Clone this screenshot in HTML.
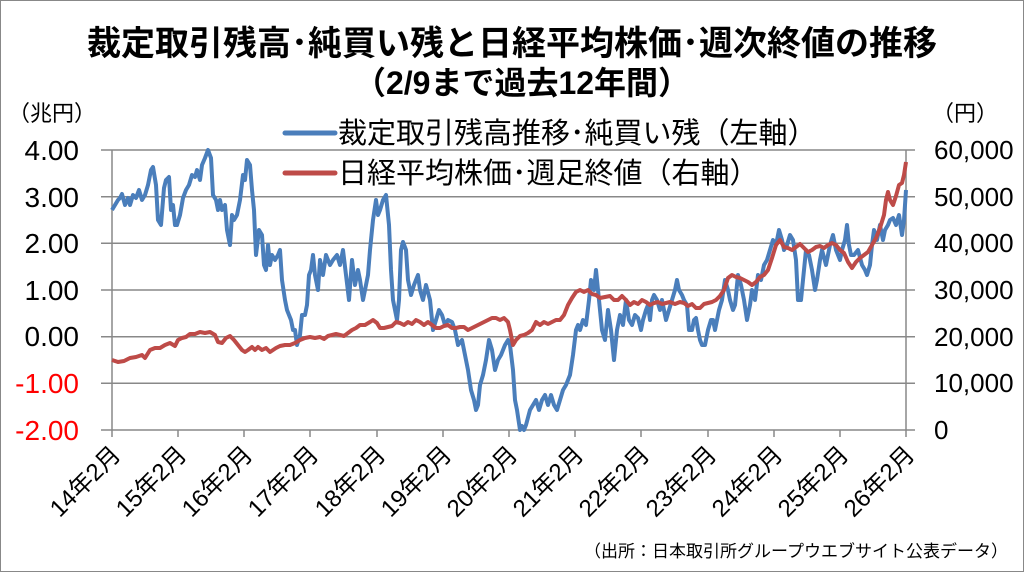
<!DOCTYPE html>
<html><head><meta charset="utf-8"><style>
body{margin:0;background:#fff}
svg{display:block}
text{font-family:"Liberation Sans","Noto Sans CJK JP",sans-serif}
</style></head><body>
<svg width="1024" height="572" viewBox="0 0 1024 572">
<rect x="0.5" y="0.5" width="1023" height="571" fill="#fff" stroke="#888" stroke-width="1"/>
<text x="512" y="55" font-size="34" font-weight="bold" text-anchor="middle" fill="#000">裁定取引残高･純買い残と日経平均株価･週次終値の推移</text>
<text x="522" y="94" font-size="32" font-weight="bold" text-anchor="middle" fill="#000">（2/9まで過去12年間）</text>
<text x="8" y="121" font-size="22" fill="#000">（兆円）</text>
<text x="932" y="121" font-size="22" fill="#000">（円）</text>
<g stroke="#888" stroke-width="1.5">
<line x1="101" y1="150" x2="915" y2="150"/><line x1="101" y1="196.7" x2="915" y2="196.7"/><line x1="101" y1="243.3" x2="915" y2="243.3"/><line x1="101" y1="290" x2="915" y2="290"/><line x1="101" y1="336.7" x2="915" y2="336.7"/><line x1="101" y1="383.3" x2="915" y2="383.3"/><line x1="101" y1="430" x2="915" y2="430"/>
<line x1="112" y1="150" x2="112" y2="437"/><line x1="906" y1="150" x2="906" y2="437"/>
<line x1="178" y1="430" x2="178" y2="437"/><line x1="244" y1="430" x2="244" y2="437"/><line x1="310" y1="430" x2="310" y2="437"/><line x1="377" y1="430" x2="377" y2="437"/><line x1="443" y1="430" x2="443" y2="437"/><line x1="509" y1="430" x2="509" y2="437"/><line x1="575" y1="430" x2="575" y2="437"/><line x1="641" y1="430" x2="641" y2="437"/><line x1="708" y1="430" x2="708" y2="437"/><line x1="774" y1="430" x2="774" y2="437"/><line x1="840" y1="430" x2="840" y2="437"/>
</g>
<g font-size="28" text-anchor="end">
<text x="79" y="160">4.00</text><text x="79" y="207">3.00</text><text x="79" y="253">2.00</text><text x="79" y="300">1.00</text><text x="79" y="346">0.00</text>
<text x="79" y="393" fill="#f00">-1.00</text><text x="79" y="440" fill="#f00">-2.00</text>
</g>
<g font-size="26">
<text x="934" y="159">60,000</text><text x="934" y="206">50,000</text><text x="934" y="252">40,000</text><text x="934" y="299">30,000</text><text x="934" y="346">20,000</text><text x="934" y="392">10,000</text><text x="934" y="439">0</text>
</g>
<g font-size="24" text-anchor="end">
<text transform="translate(122,456) rotate(-45)">14年2月</text>
<text transform="translate(188,456) rotate(-45)">15年2月</text>
<text transform="translate(254,456) rotate(-45)">16年2月</text>
<text transform="translate(320,456) rotate(-45)">17年2月</text>
<text transform="translate(387,456) rotate(-45)">18年2月</text>
<text transform="translate(453,456) rotate(-45)">19年2月</text>
<text transform="translate(519,456) rotate(-45)">20年2月</text>
<text transform="translate(585,456) rotate(-45)">21年2月</text>
<text transform="translate(651,456) rotate(-45)">22年2月</text>
<text transform="translate(718,456) rotate(-45)">23年2月</text>
<text transform="translate(784,456) rotate(-45)">24年2月</text>
<text transform="translate(850,456) rotate(-45)">25年2月</text>
<text transform="translate(916,456) rotate(-45)">26年2月</text>
</g>
<text x="1008" y="557" font-size="17" text-anchor="end">（出所：日本取引所グループウエブサイト公表データ）</text>
<line x1="285" y1="133" x2="335" y2="133" stroke="#4a7ebb" stroke-width="5" stroke-linecap="round"/>
<text x="338" y="143" font-size="29">裁定取引残高推移･純買い残（左軸）</text>
<line x1="285" y1="173" x2="335" y2="173" stroke="#be4b48" stroke-width="5" stroke-linecap="round"/>
<text x="338" y="183" font-size="29">日経平均株価･週足終値（右軸）</text>
<polyline fill="none" stroke="#4a7ebb" stroke-width="4" stroke-linejoin="round" points="112,210 115,205 118,200 120,198 122,194 125,205 128,198 130,205 133,195 136,198 139,190 142,200 145,195 148,185 151,170 153,167 156,185 158,220 161,225 164,188 166,180 169,177 171,210 173,205 175,225 177,225 180,215 183,198 186,190 189,185 192,175 195,177 197,170 200,180 202,165 205,158 208,150 211,158 213,195 216,200 218,210 220,200 222,210 225,205 227,230 230,245 232,215 234,220 237,215 240,200 243,175 245,180 247,160 250,165 252,190 254,210 256,255 259,230 262,235 264,265 266,270 268,245 270,265 272,255 275,260 278,255 280,250 282,280 285,300 287,310 289,315 291,320 293,330 295,330 297,345 300,335 302,315 305,315 307,305 309,275 311,270 313,255 315,275 318,290 320,260 323,275 326,255 330,265 333,260 337,255 340,265 343,250 346,275 349,300 352,260 355,285 358,270 360,280 363,300 365,290 368,275 370,250 373,220 376,200 378,215 380,210 383,200 386,195 389,225 391,270 393,300 395,310 397,320 399,300 401,250 403,242 406,250 408,280 411,295 414,285 418,275 420,290 423,300 426,285 430,300 433,330 436,320 439,310 442,315 445,325 448,320 452,322 455,330 458,345 462,340 465,355 468,370 471,390 474,400 476,410 478,405 480,385 483,375 486,360 489,340 492,350 495,370 498,360 501,355 505,345 508,340 510,345 513,370 515,400 517,410 520,430 522,426 524,430 526,425 530,410 533,405 536,400 539,410 542,400 545,395 548,405 551,395 554,405 557,410 560,400 563,390 566,385 570,375 573,355 576,330 578,325 580,330 583,320 586,325 589,300 591,280 594,290 596,270 599,300 602,330 605,340 608,310 611,330 614,360 617,330 620,315 623,325 626,300 629,320 632,325 635,315 638,318 641,330 643,320 646,310 648,305 650,320 652,300 654,295 657,300 660,310 662,300 666,320 669,310 672,300 675,290 677,280 679,290 682,295 684,300 687,305 689,330 692,330 694,320 696,318 698,330 700,340 702,345 705,345 708,330 711,320 713,320 715,330 717,320 719,310 722,300 725,280 728,290 730,300 733,310 735,305 738,275 741,285 744,300 747,320 750,305 752,290 755,300 758,275 761,280 764,265 767,260 770,250 773,240 776,245 779,230 782,240 784,250 787,245 790,235 793,240 796,260 798,300 801,300 803,280 806,250 809,255 812,270 815,290 817,280 820,260 822,250 826,265 830,245 833,235 836,250 840,260 842,250 845,240 847,225 849,245 851,255 854,255 858,250 862,265 865,270 867,275 870,265 872,245 874,230 877,240 880,225 883,240 885,230 888,225 890,220 893,218 896,225 899,215 902,235 904,220 906,190"/>
<polyline fill="none" stroke="#be4b48" stroke-width="4" stroke-linejoin="round" points="112,360 118,362 124,361 130,358 136,357 142,355 145,358 150,350 155,348 160,348 165,345 170,343 175,346 178,340 182,338 186,337 190,334 195,334 200,332 205,333 210,332 215,335 218,342 222,343 226,338 230,336 234,340 238,345 242,350 245,352 248,350 252,347 255,350 258,347 262,350 266,348 270,352 273,350 276,348 280,346 285,345 290,345 295,343 300,340 305,338 310,337 315,338 320,337 324,339 328,336 332,335 336,334 340,335 344,336 348,333 352,330 356,328 360,325 365,325 370,322 373,320 377,323 380,328 384,328 388,327 392,326 396,322 400,323 404,325 408,322 412,324 416,320 420,322 424,325 428,322 432,325 436,328 440,328 444,326 448,325 452,328 456,328 460,327 464,327 468,330 472,328 476,326 480,324 484,322 488,320 492,318 496,318 500,320 504,318 508,322 510,330 513,345 516,340 520,336 524,335 528,333 532,330 536,322 540,325 544,322 548,324 552,322 556,320 560,320 564,315 568,305 572,298 576,292 580,290 584,292 588,290 592,294 596,295 600,298 605,297 610,296 614,300 618,300 622,296 626,300 630,305 634,302 638,304 642,300 646,302 650,305 654,303 658,302 662,304 666,303 670,302 675,304 680,302 684,303 688,306 692,304 696,308 700,308 704,304 708,303 712,302 716,300 720,296 724,290 728,278 732,275 736,277 740,278 744,280 748,282 752,285 756,282 760,277 764,275 768,270 772,258 776,245 780,240 784,247 788,248 792,250 796,247 800,244 804,248 808,252 812,250 816,247 820,246 824,248 828,245 832,243 836,245 840,250 844,253 848,262 852,268 856,262 860,258 864,255 868,252 872,245 876,238 880,228 884,215 886,200 888,192 890,200 893,205 896,196 899,185 902,183 904,175 906,162"/>
</svg>
</body></html>
